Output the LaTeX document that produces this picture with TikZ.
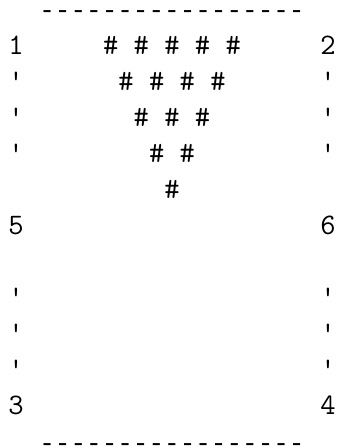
\documentclass[tikz,border=0pt]{standalone}
\usepackage{fontspec}
\newfontfamily\monof{Liberation Mono}
\newcommand{\myquote}{\char39}
\begin{document}
\begin{tikzpicture}[x=0.75pt,y=0.75pt,
  txt/.style={inner sep=0pt, outer sep=0pt, anchor=base,
    font=\ttfamily\fontsize{22.3pt}{26pt}\selectfont, text=black},
  rule/.style={inner sep=0pt, outer sep=0pt, anchor=base,
    font=\monof\fontsize{19.5pt}{23pt}\selectfont, text=black}]
\useasboundingbox (0,0) rectangle (337,448);
% top and bottom rules
\node[rule] (topline) at (172,429) {-----------------};
\node[rule] (botline) at (172,-3) {-----------------};
% corner labels
\node[txt] (n1) at (16,393) {1};
\node[txt] (n2) at (328,393) {2};
\node[txt] (n5) at (16,213) {5};
\node[txt] (n6) at (328,213) {6};
\node[txt] (n3) at (16,33) {3};
\node[txt] (n4) at (328,33) {4};
% quote marks
\node[txt] (ql2) at (16,357) {\myquote};
\node[txt] (ql3) at (16,321) {\myquote};
\node[txt] (ql4) at (16,285) {\myquote};
\node[txt] (qr2) at (328,357) {\myquote};
\node[txt] (qr3) at (328,321) {\myquote};
\node[txt] (qr4) at (328,285) {\myquote};
\node[txt] (ql8) at (16,141) {\myquote};
\node[txt] (ql9) at (16,105) {\myquote};
\node[txt] (ql10) at (16,69) {\myquote};
\node[txt] (qr8) at (328,141) {\myquote};
\node[txt] (qr9) at (328,105) {\myquote};
\node[txt] (qr10) at (328,69) {\myquote};
% hash triangle
\node[txt] (h1) at (172,393) {\#\ \#\ \#\ \#\ \#};
\node[txt] (h2) at (172,357) {\#\ \#\ \#\ \#};
\node[txt] (h3) at (172,321) {\#\ \#\ \#};
\node[txt] (h4) at (172,285) {\#\ \#};
\node[txt] (h5) at (172,249) {\#};
\end{tikzpicture}
\end{document}
